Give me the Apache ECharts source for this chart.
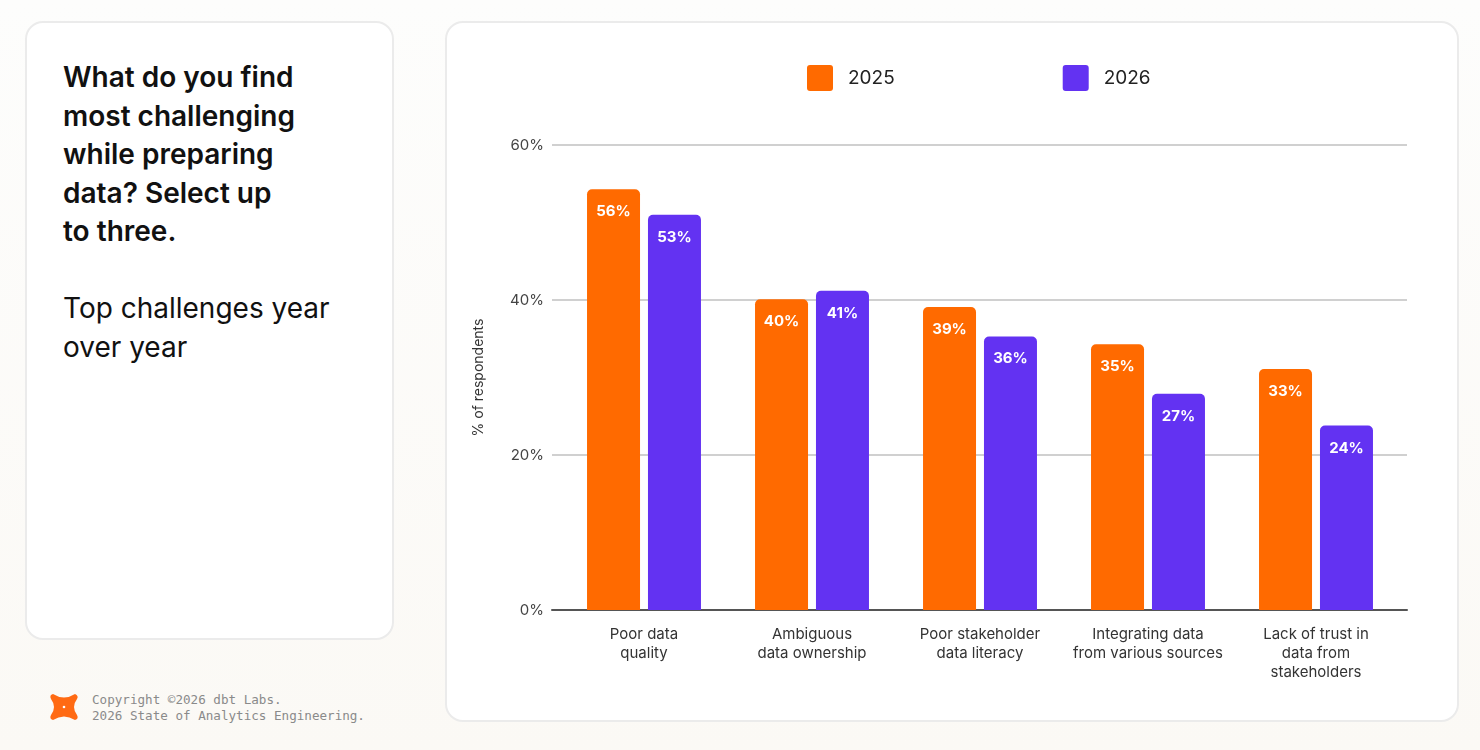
<!DOCTYPE html>
<html>
<head>
<meta charset="utf-8">
<script src="https://cdn.jsdelivr.net/npm/echarts@6/dist/echarts.min.js"></script>
<style>
  html, body { margin: 0; padding: 0; width: 1480px; height: 750px; overflow: hidden;
    background: linear-gradient(180deg, #fdfdfc 0%, #fbf9f5 100%); font-family: Inter, "Noto Sans", sans-serif; }
  .card { position: absolute; background: #fff; border: 2px solid #ebebeb; border-radius: 18px; box-sizing: border-box; }
  #left { left: 25px; top: 21px; width: 369px; height: 619px; }
  #right { left: 445px; top: 21px; width: 1014px; height: 701px; }
  .q { position: absolute; left: 63px; top: 58px; font-size: 28px; line-height: 38.5px; font-weight: 600; color: #111; width: 320px; }
  .sub { position: absolute; left: 63px; top: 289px; font-size: 28px; line-height: 38.5px; color: #111; width: 320px; }
  #chart { position: absolute; left: 0; top: 0; width: 1480px; height: 750px; }
  .foot { position: absolute; left: 92px; top: 692px; font-family: "DejaVu Sans Mono", monospace; font-size: 12.6px; line-height: 16px; color: #8a8a8a; }
  .logo { position: absolute; left: 49px; top: 692px; }
</style>
</head>
<body>
<div class="card" id="left"></div>
<div class="card" id="right"></div>
<div class="q">What do you find<br>most challenging<br>while preparing<br>data? Select up<br>to three.</div>
<div class="sub">Top challenges year<br>over year</div>
<svg class="logo" width="30" height="30" viewBox="0 0 30 30">
  <path d="M4 2 Q15 9 26 2 Q30 4 28 7 Q22 15 28 23 Q30 27 26 28 Q15 21 4 28 Q0 27 2 23 Q8 15 2 7 Q0 3 4 2 Z" fill="#ff6a13"/>
  <circle cx="15" cy="15" r="1.3" fill="#fff"/>
</svg>
<div class="foot">Copyright ©2026 dbt Labs.<br>2026 State of Analytics Engineering.</div>
<div id="chart"></div>
<script>
var categories = ['Poor data\nquality', 'Ambiguous\ndata ownership', 'Poor stakeholder\ndata literacy', 'Integrating data\nfrom various sources', 'Lack of trust in\ndata from\nstakeholders'];
var years = ['2025', '2026'];
// printed labels
var labels2025 = [56, 40, 39, 35, 33];
var labels2026 = [53, 41, 36, 27, 24];
// bar heights as drawn in the picture (they don't quite match the labels)
var heights2025 = [54.3, 40.1, 39.1, 34.3, 31.1];
var heights2026 = [51.0, 41.2, 35.3, 27.9, 23.8];
var yTicks = [0, 20, 40, 60];

var colors = ['#ff6a00', '#6332f2'];
var font = 'Inter, sans-serif';

window.onload = function() {
    var myChart = echarts.init(document.getElementById('chart'));

    function barLabel(texts) {
        return {
            show: true,
            position: 'insideTop',
            distance: 15,
            color: '#fff',
            fontWeight: 700,
            fontSize: 15,
            fontFamily: font,
            formatter: function(p) { return texts[p.dataIndex] + '%'; }
        };
    }

    var option = {
        backgroundColor: 'transparent',
        animation: false,
        legend: {
            data: years,
            left: 802,
            top: 60,
            itemWidth: 26,
            itemHeight: 26,
            itemGap: 168,
            icon: 'path://M3,0 H23 Q26,0 26,3 V23 Q26,26 23,26 H3 Q0,26 0,23 V3 Q0,0 3,0 Z',
            textStyle: { fontSize: 19, color: '#222', fontFamily: font, padding: [0, 0, 0, 10] }
        },
        grid: [
            { left: 560, right: 80, top: 145, bottom: 140 },   // bars
            { left: 552, right: 73, top: 145, bottom: 140 }    // grid lines + y labels
        ],
        xAxis: [{
            type: 'category',
            gridIndex: 0,
            data: categories,
            axisTick: { show: false },
            axisLine: { show: false },
            axisLabel: { color: '#333', fontSize: 15, lineHeight: 19, margin: 15, interval: 0, fontFamily: font }
        }, {
            type: 'category',
            gridIndex: 1,
            data: categories,
            axisTick: { show: false },
            axisLabel: { show: false },
            axisLine: { lineStyle: { color: '#555', width: 2 } }
        }],
        yAxis: [{
            type: 'value',
            gridIndex: 0,
            min: yTicks[0],
            max: yTicks[yTicks.length - 1],
            interval: 20,
            axisLabel: { show: false },
            splitLine: { show: false }
        }, {
            type: 'value',
            gridIndex: 1,
            min: yTicks[0],
            max: yTicks[yTicks.length - 1],
            interval: 20,
            name: '% of respondents',
            nameLocation: 'middle',
            nameRotate: 90,
            nameGap: 66,
            nameTextStyle: { fontSize: 14, color: '#333', fontFamily: font },
            axisLabel: { formatter: '{value}%', color: '#444', fontSize: 15, margin: 8, fontFamily: font },
            splitLine: { lineStyle: { color: '#d0d0d0', width: 2 } }
        }],
        series: [{
            name: years[0],
            type: 'bar',
            xAxisIndex: 0,
            yAxisIndex: 0,
            data: heights2025,
            barWidth: 53,
            barGap: '15%',
            z: 3,
            itemStyle: { color: colors[0], borderRadius: [5, 5, 0, 0] },
            label: barLabel(labels2025)
        }, {
            name: years[1],
            type: 'bar',
            xAxisIndex: 0,
            yAxisIndex: 0,
            data: heights2026,
            barWidth: 53,
            z: 3,
            itemStyle: { color: colors[1], borderRadius: [5, 5, 0, 0] },
            label: barLabel(labels2026)
        }]
    };

    myChart.setOption(option);
}
</script>
</body>
</html>
